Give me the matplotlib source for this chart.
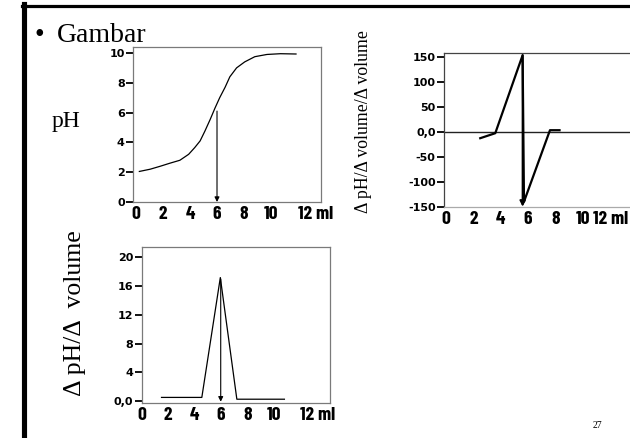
import matplotlib
matplotlib.use('Agg')
import matplotlib.pyplot as plt
from matplotlib.lines import Line2D

# titration curve (pH vs volume in ml)
vol_ph = [0.25, 1.05, 1.8, 2.5, 3.25, 3.9, 4.35, 4.75, 5.1, 5.5, 5.85, 6.2,
          6.6, 6.95, 7.45, 8.05, 8.8, 9.7, 10.7, 11.85]
ph = [2.05, 2.2, 2.4, 2.6, 2.8, 3.2, 3.65, 4.1, 4.75, 5.55, 6.3, 7.0,
      7.7, 8.4, 9.0, 9.4, 9.75, 9.9, 9.95, 9.93]

# second derivative
vol_d2 = [2.5, 3.6, 5.6, 5.7, 7.6, 8.3]
d2 = [-13, -3, 153, -140, 3, 3]

# first derivative
vol_d1 = [1.5, 4.55, 5.95, 7.2, 10.8]
d1 = [0.5, 0.5, 17.2, 0.25, 0.25]

equiv1 = (6.0, 6.1)       # arrow on pH curve: x, top
equiv2 = (5.6, 153)       # arrow on 2nd derivative
equiv3 = (5.98, 17.0)     # arrow on 1st derivative

xticks = [0, 2, 4, 6, 8, 10, 12]
xlabels = ['0', '2', '4', '6', '8', '10', '12 ml']
yticks1 = [0, 2, 4, 6, 8, 10]
yticks2 = [-150, -100, -50, 0, 50, 100, 150]
ylabels2 = ['-150', '-100', '-50', '0,0', '50', '100', '150']
yticks3 = [0, 4, 8, 12, 16, 20]
ylabels3 = ['0,0', '4', '8', '12', '16', '20']

W, H = 630, 438
fig = plt.figure(figsize=(6.3, 4.38), dpi=100)

def box(l, t, r, b):
    return [l / W, 1 - b / H, (r - l) / W, (b - t) / H]

def px(x, y):
    return x / W, 1 - y / H

serif = ['Liberation Serif', 'DejaVu Serif']
tickx = dict(family=['Barlow Condensed', 'DejaVu Sans'], stretch='condensed', weight='bold', size=14)
ticky = dict(family='DejaVu Sans', weight='bold', size=8)
spine_gray = '#7a7a7a'

def style(ax, col, last_left=True):
    for s in ax.spines.values():
        s.set_color(col)
        s.set_linewidth(0.9)
    ax.tick_params(axis='x', length=0, pad=3)
    ax.tick_params(axis='y', direction='out', length=5, width=1.3, color='black', pad=1)
    ax.set_xticks(xticks)
    ax.set_xticklabels(xlabels, fontdict=tickx)
    if last_left:
        ax.get_xticklabels()[-1].set_horizontalalignment('left')

# ---- pH curve
ax1 = fig.add_axes(box(133, 47, 321, 202))
ax1.plot(vol_ph, ph, color='black', lw=0.9)
ax1.annotate('', xy=(equiv1[0], 0), xytext=equiv1,
             arrowprops=dict(arrowstyle='-|>', color='black', lw=0.8, mutation_scale=7, shrinkA=0, shrinkB=0))
ax1.set_xlim(-0.22, 13.7)
ax1.set_ylim(0.07, 10.4)
style(ax1, spine_gray)
ax1.set_yticks(yticks1)
ax1.set_yticklabels([str(v) for v in yticks1], fontdict=ticky)

# ---- second derivative
ax2 = fig.add_axes(box(444, 52.7, 632, 207))
ax2.axhline(0, color='#222222', lw=1.0)
ax2.plot(vol_d2, d2, color='black', lw=1.6)
ax2.annotate('', xy=(equiv2[0], -150), xytext=equiv2,
             arrowprops=dict(arrowstyle='-|>', color='black', lw=1.4, mutation_scale=8, shrinkA=0, shrinkB=0))
ax2.set_xlim(-0.15, 13.6)
ax2.set_ylim(-150.6, 158)
style(ax2, '#444444', last_left=False)
ax2.spines['bottom'].set_color('#aaaaaa')
ax2.spines['right'].set_visible(False)
ax2.set_yticks(yticks2)
ax2.set_yticklabels(ylabels2, fontdict=ticky)

# ---- first derivative
ax3 = fig.add_axes(box(141.7, 246.7, 330, 403.3))
ax3.plot(vol_d1, d1, color='black', lw=0.9)
ax3.annotate('', xy=(equiv3[0], -0.1), xytext=equiv3,
             arrowprops=dict(arrowstyle='-|>', color='black', lw=0.8, mutation_scale=7, shrinkA=0, shrinkB=0))
ax3.set_xlim(0, 14.25)
ax3.set_ylim(-0.32, 21.5)
style(ax3, spine_gray)
ax3.set_yticks(yticks3)
ax3.set_yticklabels(ylabels3, fontdict=ticky)

# ---- slide text
fig.text(*px(34, 42), '\u2022', family=serif, size=20, va='baseline')
fig.text(*px(57, 42), 'Gambar', family=serif, size=20, va='baseline')
fig.text(*px(66, 122), 'pH', family=serif, size=17, ha='center', va='center')
fig.text(*px(75, 313), '\u0394 pH/\u0394  volume', family=serif, size=18.5,
         rotation=90, ha='center', va='center')
fig.text(*px(364, 122), '\u0394 pH/\u0394 volume/\u0394 volume', family=serif, size=12.8,
         rotation=90, ha='center', va='center')
fig.text(*px(597, 426), '27', family=serif, size=7, ha='center', va='center')

# slide frame
fig.add_artist(Line2D([22 / W, 1.0], [1 - 5.5 / H] * 2, color='black', lw=2.3, transform=fig.transFigure))
fig.add_artist(Line2D([24.2 / W] * 2, [0, 1 - 4 / H], color='black', lw=3.7, transform=fig.transFigure))

fig.savefig('out.png', dpi=100)
